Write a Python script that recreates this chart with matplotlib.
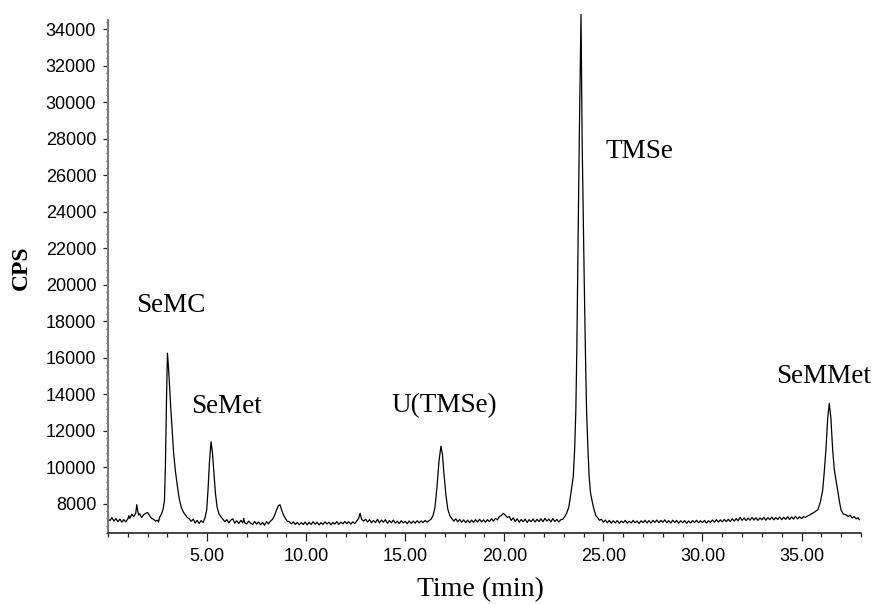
import matplotlib
matplotlib.use("Agg")
import matplotlib.pyplot as plt
from matplotlib.ticker import MultipleLocator, FormatStrFormatter

# ---- data ----
time_min = [
    0.00, 0.10, 0.20, 0.30, 0.40, 0.50, 0.60, 0.70, 0.80, 0.90, 1.00, 1.05, 1.10, 1.20, 1.30, 1.40,
    1.45, 1.50, 1.55, 1.60, 1.70, 1.80, 1.90, 2.00, 2.10, 2.20, 2.30, 2.40, 2.50, 2.55, 2.60, 2.70,
    2.78, 2.85, 2.90, 2.95, 3.00, 3.05, 3.10, 3.17, 3.25, 3.31, 3.40, 3.51, 3.60, 3.70, 3.80, 3.90,
    4.00, 4.10, 4.20, 4.30, 4.40, 4.50, 4.60, 4.70, 4.80, 4.90, 4.98, 5.05, 5.12, 5.20, 5.27, 5.35,
    5.42, 5.50, 5.60, 5.70, 5.80, 5.90, 6.00, 6.10, 6.20, 6.30, 6.40, 6.50, 6.60, 6.70, 6.80, 6.85,
    6.90, 7.00, 7.10, 7.20, 7.30, 7.40, 7.50, 7.60, 7.70, 7.80, 7.90, 8.00, 8.10, 8.20, 8.30, 8.40,
    8.50, 8.60, 8.68, 8.75, 8.85, 8.95, 9.05, 9.15, 9.25, 9.35, 9.45, 9.55, 9.65, 9.75, 9.85, 9.95,
    10.05, 10.15, 10.25, 10.35, 10.45, 10.55, 10.65, 10.75, 10.85, 10.95, 11.05, 11.15, 11.25, 11.35,
    11.45, 11.55, 11.65, 11.75, 11.85, 11.95, 12.05, 12.15, 12.25, 12.35, 12.45, 12.55, 12.65, 12.72,
    12.80, 12.90, 13.00, 13.10, 13.20, 13.30, 13.40, 13.50, 13.60, 13.70, 13.80, 13.90, 14.00, 14.10,
    14.20, 14.30, 14.40, 14.50, 14.60, 14.70, 14.80, 14.90, 15.00, 15.10, 15.20, 15.30, 15.40, 15.50,
    15.60, 15.70, 15.80, 15.90, 16.00, 16.10, 16.20, 16.30, 16.40, 16.50, 16.60, 16.70, 16.80, 16.88,
    16.95, 17.05, 17.15, 17.25, 17.35, 17.45, 17.55, 17.65, 17.75, 17.85, 17.95, 18.05, 18.15, 18.25,
    18.35, 18.45, 18.55, 18.65, 18.75, 18.85, 18.95, 19.05, 19.15, 19.25, 19.35, 19.45, 19.55, 19.65,
    19.75, 19.85, 19.95, 20.05, 20.15, 20.25, 20.35, 20.45, 20.55, 20.65, 20.75, 20.85, 20.95, 21.05,
    21.15, 21.25, 21.35, 21.45, 21.55, 21.65, 21.75, 21.85, 21.95, 22.05, 22.15, 22.25, 22.35, 22.45,
    22.55, 22.65, 22.75, 22.85, 22.95, 23.05, 23.15, 23.25, 23.31, 23.40, 23.48, 23.55, 23.61, 23.66,
    23.70, 23.74, 23.78, 23.83, 23.87, 23.90, 23.93, 23.98, 24.03, 24.09, 24.15, 24.22, 24.28, 24.35,
    24.42, 24.49, 24.55, 24.62, 24.70, 24.80, 24.90, 25.00, 25.10, 25.20, 25.30, 25.40, 25.50, 25.60,
    25.70, 25.80, 25.90, 26.00, 26.10, 26.20, 26.30, 26.40, 26.50, 26.60, 26.70, 26.80, 26.90, 27.00,
    27.10, 27.20, 27.30, 27.40, 27.50, 27.60, 27.70, 27.80, 27.90, 28.00, 28.10, 28.20, 28.30, 28.40,
    28.50, 28.60, 28.70, 28.80, 28.90, 29.00, 29.10, 29.20, 29.30, 29.40, 29.50, 29.60, 29.70, 29.80,
    29.90, 30.00, 30.10, 30.20, 30.30, 30.40, 30.50, 30.60, 30.70, 30.80, 30.90, 31.00, 31.10, 31.20,
    31.30, 31.40, 31.50, 31.60, 31.70, 31.80, 31.90, 32.00, 32.10, 32.20, 32.30, 32.40, 32.50, 32.60,
    32.70, 32.80, 32.90, 33.00, 33.10, 33.20, 33.30, 33.40, 33.50, 33.60, 33.70, 33.80, 33.90, 34.00,
    34.10, 34.20, 34.30, 34.40, 34.50, 34.60, 34.70, 34.80, 34.90, 35.00, 35.10, 35.20, 35.30, 35.40,
    35.50, 35.57, 35.70, 35.82, 35.95, 36.07, 36.15, 36.23, 36.32, 36.40, 36.48, 36.57, 36.65, 36.75,
    36.82, 36.90, 36.99, 37.10, 37.24, 37.35, 37.45, 37.55, 37.65, 37.75, 37.85, 37.92,
]
cps = [
    7180, 7080, 7240, 7050, 7190, 7020, 7160, 6990, 7130, 7010, 7170, 7350, 7200, 7420, 7300, 7480,
    7950, 7600, 7380, 7450, 7250, 7400, 7480, 7520, 7350, 7200, 7150, 7050, 7100, 7000, 7250, 7450,
    7700, 8200, 10200, 13600, 16250, 15500, 14600, 13200, 11800, 10800, 9800, 8900, 8250, 7800, 7550, 7400,
    7250, 7180, 7040, 7160, 6950, 7090, 6920, 7080, 6970, 7250, 7650, 8800, 10300, 11400, 10800, 9600,
    8600, 7850, 7450, 7280, 7150, 7020, 7130, 6960, 7110, 7170, 6940, 7070, 6920, 7090, 6950, 7200,
    6960, 6900, 7050, 6930, 6870, 7030, 6890, 7010, 6850, 6980, 6830, 7020, 6900, 7050, 7150, 7350,
    7650, 7900, 7950, 7700, 7400, 7200, 7050, 7020, 6900, 7010, 6870, 6990, 6850, 6970, 6870, 7000,
    6850, 6980, 6870, 7020, 6880, 6990, 6840, 6970, 6870, 7010, 6890, 6990, 6850, 6980,
    6890, 7020, 6870, 6990, 6900, 7030, 6910, 7020, 6890, 7010, 6920, 7050, 7200, 7480,
    7150, 7050, 7150, 7000, 7130, 6960, 7090, 6970, 7150, 6950, 7110, 6990, 7130, 6930,
    7080, 6960, 7110, 6940, 7050, 6920, 7070, 6950, 7040, 6910, 7060, 6930, 7050, 6940,
    7070, 6960, 7060, 6970, 7090, 6990, 7080, 7150, 7350, 7800, 8900, 10300, 11150, 10700,
    9700, 8500, 7700, 7350, 7200, 7050, 7180, 7010, 7140, 6990, 7120, 6970, 7100, 6960,
    7110, 6980, 7130, 7000, 7150, 7010, 7120, 6990, 7130, 7020, 7180, 7050, 7200, 7120,
    7300, 7350, 7480, 7380, 7250, 7300, 7090, 7230, 7030, 7180, 6990, 7140, 7010, 7160,
    6970, 7130, 7020, 7170, 7000, 7150, 7030, 7180, 7020, 7200, 7050, 7160, 7010, 7190,
    7030, 7150, 7000, 7130, 7150, 7300, 7500, 7800, 8200, 8900, 9500, 11000, 13140, 16500,
    20420, 24000, 27700, 31500, 34800, 31000, 27700, 24000, 20420, 16500, 13140, 11000, 9490, 8600,
    8200, 7850, 7600, 7350, 7250, 7100, 7150, 6990, 7110, 6960, 7090, 6940, 7070, 6950,
    7080, 6930, 7060, 6960, 7090, 6940, 7050, 6950, 7090, 6960, 7060, 6920, 7070, 6970,
    7100, 6950, 7080, 6940, 7090, 6980, 7110, 6960, 7090, 6990, 7120, 6960, 7080, 6950,
    7100, 6970, 7090, 6940, 7070, 6960, 7080, 6930, 7060, 6950, 7080, 6970, 7100, 6960,
    7070, 6970, 7090, 6940, 7070, 6980, 7110, 6990, 7130, 7000, 7120, 7010, 7140, 7020,
    7150, 7030, 7180, 7050, 7190, 7070, 7260, 7090, 7230, 7080, 7220, 7100, 7250, 7110,
    7240, 7090, 7230, 7120, 7260, 7100, 7240, 7130, 7270, 7120, 7250, 7140, 7280, 7130,
    7260, 7150, 7290, 7140, 7280, 7160, 7310, 7170, 7290, 7190, 7300, 7250, 7330, 7380,
    7450, 7490, 7580, 7670, 8100, 8770, 9800, 10950, 12700, 13500, 12700, 10950, 9900, 9200,
    8770, 8200, 7670, 7450, 7400, 7300, 7380, 7220, 7300, 7180, 7240, 7130,
]

peak_names = ["SeMC", "SeMet", "U(TMSe)", "TMSe", "SeMMet"]
label_t = [3.17, 5.99, 16.97, 26.84, 36.13]
label_cps = [18490, 12970, 13030, 26960, 14610]

y_ticks = [8000, 10000, 12000, 14000, 16000, 18000, 20000, 22000, 24000,
           26000, 28000, 30000, 32000, 34000]
x_ticks = [5, 10, 15, 20, 25, 30, 35]

# ---- figure ----
fig = plt.figure(figsize=(8.74, 6.04), dpi=100)
ax = fig.add_axes([108 / 874, 1 - 533 / 604, (861 - 108) / 874, (533 - 20) / 604])

ax.plot(time_min, cps, color="black", linewidth=0.9, clip_on=False)

ax.set_xlim(0, 38)
ax.set_ylim(6400, 34500)

for s in ["top", "right"]:
    ax.spines[s].set_visible(False)
ax.spines["left"].set_color("#7a7a7a")
ax.spines["left"].set_linewidth(1.5)
ax.spines["bottom"].set_color("#222222")
ax.spines["bottom"].set_linewidth(1.2)

ax.set_xticks(x_ticks)
ax.xaxis.set_major_formatter(FormatStrFormatter("%.2f"))
ax.xaxis.set_minor_locator(MultipleLocator(1))
ax.set_yticks(y_ticks)
ax.yaxis.set_minor_locator(MultipleLocator(400))

ax.tick_params(axis="x", which="major", direction="out", length=5.5, width=0.9,
               pad=5, labelsize=13, colors="#222222")
ax.tick_params(axis="x", which="minor", direction="out", length=3, width=0.9, colors="#222222")
ax.tick_params(axis="y", which="major", direction="out", length=3.5, width=0.9,
               pad=5, labelsize=13, colors="#222222")
ax.tick_params(axis="y", which="minor", direction="out", length=1.8, width=0.8, colors="#444444")
for lab in ax.get_xticklabels() + ax.get_yticklabels():
    lab.set_fontfamily("Liberation Sans")
    lab.set_color("black")

for name, t, c in zip(peak_names, label_t, label_cps):
    ax.text(t, c, name, ha="center", va="baseline", fontsize=19.5,
            family="Liberation Serif", color="black")

fig.text(480 / 874, 1 - 596 / 604, "Time (min)", ha="center", va="baseline",
         fontsize=20, family="Liberation Serif")
fig.text(21 / 874, 1 - 268 / 604, "CPS", ha="center", va="center", rotation=90,
         fontsize=17, fontweight="bold", family="Liberation Serif")

fig.savefig("out.png", dpi=100)
